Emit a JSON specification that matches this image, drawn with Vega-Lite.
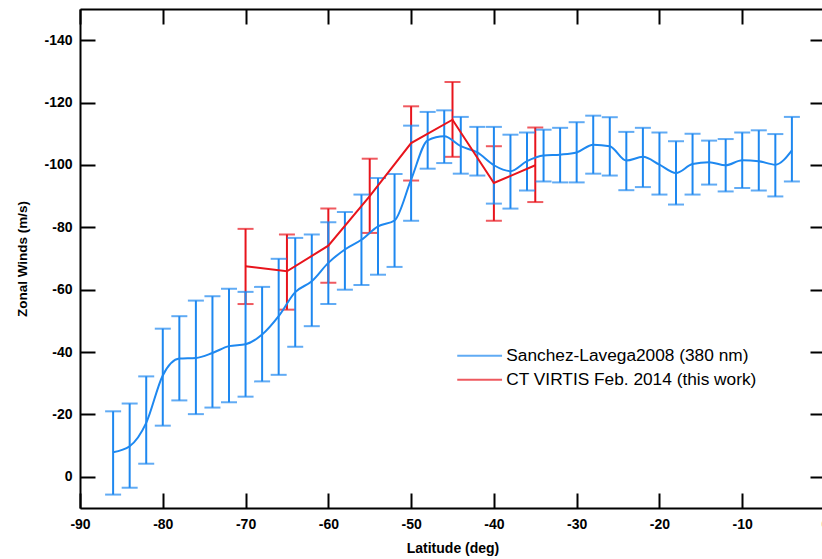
{
  "$schema": "https://vega.github.io/schema/vega-lite/v6.json",
  "width": 745,
  "height": 499,
  "autosize": {"type": "none"},
  "padding": {"left": 80, "top": 9, "right": 0, "bottom": 51},
  "background": "white",
  "config": {
    "view": {"stroke": null},
    "font": "Liberation Sans",
    "axis": {
      "domainColor": "black", "domainWidth": 2,
      "tickColor": "black", "tickWidth": 2, "tickSize": -15,
      "grid": false,
      "labelFont": "Liberation Sans", "labelFontWeight": "bold", "labelFontSize": 14, "labelColor": "black",
      "labelExpr": "'' + datum.value",
      "titleFont": "Liberation Sans", "titleFontWeight": "bold", "titleFontSize": 14, "titleColor": "black"
    }
  },
  "datasets": {
    "blue": [
      {"series": "Sanchez-Lavega2008 (380 nm)", "lat": -86, "v": -7.9, "lo": -21.0, "hi": 5.7},
      {"series": "Sanchez-Lavega2008 (380 nm)", "lat": -84, "v": -9.8, "lo": -23.5, "hi": 3.5},
      {"series": "Sanchez-Lavega2008 (380 nm)", "lat": -82, "v": -17.3, "lo": -32.2, "hi": -4.2},
      {"series": "Sanchez-Lavega2008 (380 nm)", "lat": -80, "v": -32.5, "lo": -47.5, "hi": -16.4},
      {"series": "Sanchez-Lavega2008 (380 nm)", "lat": -78, "v": -37.9, "lo": -51.5, "hi": -24.5},
      {"series": "Sanchez-Lavega2008 (380 nm)", "lat": -76, "v": -38.1, "lo": -56.5, "hi": -20.1},
      {"series": "Sanchez-Lavega2008 (380 nm)", "lat": -74, "v": -39.7, "lo": -57.9, "hi": -22.2},
      {"series": "Sanchez-Lavega2008 (380 nm)", "lat": -72, "v": -41.9, "lo": -60.3, "hi": -23.9},
      {"series": "Sanchez-Lavega2008 (380 nm)", "lat": -70, "v": -42.5, "lo": -59.3, "hi": -25.7},
      {"series": "Sanchez-Lavega2008 (380 nm)", "lat": -68, "v": -45.6, "lo": -60.9, "hi": -30.6},
      {"series": "Sanchez-Lavega2008 (380 nm)", "lat": -66, "v": -51.5, "lo": -69.9, "hi": -32.7},
      {"series": "Sanchez-Lavega2008 (380 nm)", "lat": -64, "v": -59.2, "lo": -76.6, "hi": -41.7},
      {"series": "Sanchez-Lavega2008 (380 nm)", "lat": -62, "v": -62.7, "lo": -77.7, "hi": -48.3},
      {"series": "Sanchez-Lavega2008 (380 nm)", "lat": -60, "v": -68.6, "lo": -81.6, "hi": -55.4},
      {"series": "Sanchez-Lavega2008 (380 nm)", "lat": -58, "v": -72.9, "lo": -84.9, "hi": -60.0},
      {"series": "Sanchez-Lavega2008 (380 nm)", "lat": -56, "v": -76.0, "lo": -90.5, "hi": -61.5},
      {"series": "Sanchez-Lavega2008 (380 nm)", "lat": -54, "v": -80.3, "lo": -95.8, "hi": -64.8},
      {"series": "Sanchez-Lavega2008 (380 nm)", "lat": -52, "v": -82.2, "lo": -97.1, "hi": -67.3},
      {"series": "Sanchez-Lavega2008 (380 nm)", "lat": -50, "v": -95.3, "lo": -112.6, "hi": -82.1},
      {"series": "Sanchez-Lavega2008 (380 nm)", "lat": -48, "v": -107.9, "lo": -117.0, "hi": -98.8},
      {"series": "Sanchez-Lavega2008 (380 nm)", "lat": -46, "v": -109.2, "lo": -117.5, "hi": -100.6},
      {"series": "Sanchez-Lavega2008 (380 nm)", "lat": -44, "v": -106.0, "lo": -115.4, "hi": -97.2},
      {"series": "Sanchez-Lavega2008 (380 nm)", "lat": -42, "v": -104.0, "lo": -112.2, "hi": -96.6},
      {"series": "Sanchez-Lavega2008 (380 nm)", "lat": -40, "v": -99.9, "lo": -112.2, "hi": -87.6},
      {"series": "Sanchez-Lavega2008 (380 nm)", "lat": -38, "v": -98.0, "lo": -109.7, "hi": -86.0},
      {"series": "Sanchez-Lavega2008 (380 nm)", "lat": -36, "v": -101.2, "lo": -110.4, "hi": -91.8},
      {"series": "Sanchez-Lavega2008 (380 nm)", "lat": -34, "v": -103.0, "lo": -111.3, "hi": -94.7},
      {"series": "Sanchez-Lavega2008 (380 nm)", "lat": -32, "v": -103.3, "lo": -111.9, "hi": -94.4},
      {"series": "Sanchez-Lavega2008 (380 nm)", "lat": -30, "v": -104.0, "lo": -113.7, "hi": -94.4},
      {"series": "Sanchez-Lavega2008 (380 nm)", "lat": -28, "v": -106.5, "lo": -115.8, "hi": -97.2},
      {"series": "Sanchez-Lavega2008 (380 nm)", "lat": -26, "v": -106.0, "lo": -115.3, "hi": -96.6},
      {"series": "Sanchez-Lavega2008 (380 nm)", "lat": -24, "v": -101.4, "lo": -110.6, "hi": -91.9},
      {"series": "Sanchez-Lavega2008 (380 nm)", "lat": -22, "v": -102.6, "lo": -111.9, "hi": -92.9},
      {"series": "Sanchez-Lavega2008 (380 nm)", "lat": -20, "v": -100.1, "lo": -110.4, "hi": -90.5},
      {"series": "Sanchez-Lavega2008 (380 nm)", "lat": -18, "v": -97.4, "lo": -107.6, "hi": -87.3},
      {"series": "Sanchez-Lavega2008 (380 nm)", "lat": -16, "v": -100.3, "lo": -110.0, "hi": -90.5},
      {"series": "Sanchez-Lavega2008 (380 nm)", "lat": -14, "v": -100.9, "lo": -107.8, "hi": -93.7},
      {"series": "Sanchez-Lavega2008 (380 nm)", "lat": -12, "v": -99.9, "lo": -108.3, "hi": -91.5},
      {"series": "Sanchez-Lavega2008 (380 nm)", "lat": -10, "v": -101.5, "lo": -110.4, "hi": -92.6},
      {"series": "Sanchez-Lavega2008 (380 nm)", "lat": -8, "v": -101.2, "lo": -111.1, "hi": -91.8},
      {"series": "Sanchez-Lavega2008 (380 nm)", "lat": -6, "v": -100.1, "lo": -109.9, "hi": -89.9},
      {"series": "Sanchez-Lavega2008 (380 nm)", "lat": -4, "v": -104.7, "lo": -115.4, "hi": -94.7}
    ],
    "red": [
      {"series": "CT VIRTIS Feb. 2014 (this work)", "lat": -70, "v": -67.5, "lo": -79.5, "hi": -55.4},
      {"series": "CT VIRTIS Feb. 2014 (this work)", "lat": -65, "v": -65.9, "lo": -77.7, "hi": -53.6},
      {"series": "CT VIRTIS Feb. 2014 (this work)", "lat": -60, "v": -74.1, "lo": -86.0, "hi": -62.2},
      {"series": "CT VIRTIS Feb. 2014 (this work)", "lat": -55, "v": -90.0, "lo": -102.0, "hi": -78.2},
      {"series": "CT VIRTIS Feb. 2014 (this work)", "lat": -50, "v": -107.0, "lo": -118.8, "hi": -95.0},
      {"series": "CT VIRTIS Feb. 2014 (this work)", "lat": -45, "v": -114.5, "lo": -126.6, "hi": -102.6},
      {"series": "CT VIRTIS Feb. 2014 (this work)", "lat": -40, "v": -94.2, "lo": -106.0, "hi": -82.1},
      {"series": "CT VIRTIS Feb. 2014 (this work)", "lat": -35, "v": -99.9, "lo": -112.0, "hi": -88.1}
    ]
  },
  "resolve": {"axis": {"x": "independent", "y": "independent"}},
  "layer": [
    {
      "data": {"name": "red"},
      "mark": {"type": "rule", "strokeWidth": 2},
      "encoding": {
        "x": {"field": "lat", "type": "quantitative", "scale": {"domain": [-90, 0], "nice": false},
              "axis": {"orient": "bottom", "values": [-90, -80, -70, -60, -50, -40, -30, -20, -10, 0], "title": "Latitude (deg)", "labelPadding": 24, "titlePadding": 10, "labelFlush": false}},
        "y": {"field": "lo", "type": "quantitative", "scale": {"domain": [-150, 10], "nice": false, "zero": false, "reverse": true},
              "axis": {"orient": "left", "values": [0, -20, -40, -60, -80, -100, -120, -140], "title": "Zonal Winds (m/s)", "titleFontSize": 13.5, "labelPadding": 23, "titlePadding": 14}},
        "y2": {"field": "hi"},
        "color": {"field": "series", "type": "nominal",
                  "scale": {"domain": ["Sanchez-Lavega2008 (380 nm)", "CT VIRTIS Feb. 2014 (this work)"], "range": ["#1E88F0", "#E8141C"]},
                  "legend": {"orient": "none", "legendX": 391, "legendY": 338, "title": null, "symbolType": "M-3.2,0H3.2", "symbolSize": 196, "symbolStrokeWidth": 2, "symbolFillColor": "transparent", "labelFontSize": 17.3, "labelFont": "Liberation Sans", "labelColor": "black", "labelOffset": 18, "labelLimit": 0, "rowPadding": 6, "padding": 0}}
      }
    },
    {
      "data": {"name": "red"},
      "mark": {"type": "tick", "orient": "horizontal", "size": 16, "thickness": 2},
      "encoding": {
        "x": {"field": "lat", "type": "quantitative",
              "axis": {"orient": "top", "values": [-90, -80, -70, -60, -50, -40, -30, -20, -10, 0], "labels": false, "title": null}},
        "y": {"field": "lo", "type": "quantitative",
              "axis": {"orient": "right", "values": [0, -20, -40, -60, -80, -100, -120, -140], "labels": false, "title": null}},
        "color": {"field": "series", "type": "nominal"}
      }
    },
    {
      "data": {"name": "red"},
      "mark": {"type": "tick", "orient": "horizontal", "size": 16, "thickness": 2},
      "encoding": {
        "x": {"field": "lat", "type": "quantitative", "axis": null},
        "y": {"field": "hi", "type": "quantitative", "axis": null},
        "color": {"field": "series", "type": "nominal"}
      }
    },
    {
      "data": {"name": "blue"},
      "mark": {"type": "rule", "strokeWidth": 2},
      "encoding": {
        "x": {"field": "lat", "type": "quantitative", "axis": null},
        "y": {"field": "lo", "type": "quantitative", "axis": null},
        "y2": {"field": "hi"},
        "color": {"field": "series", "type": "nominal"}
      }
    },
    {
      "data": {"name": "blue"},
      "mark": {"type": "tick", "orient": "horizontal", "size": 16, "thickness": 2},
      "encoding": {
        "x": {"field": "lat", "type": "quantitative", "axis": null},
        "y": {"field": "lo", "type": "quantitative", "axis": null},
        "color": {"field": "series", "type": "nominal"}
      }
    },
    {
      "data": {"name": "blue"},
      "mark": {"type": "tick", "orient": "horizontal", "size": 16, "thickness": 2},
      "encoding": {
        "x": {"field": "lat", "type": "quantitative", "axis": null},
        "y": {"field": "hi", "type": "quantitative", "axis": null},
        "color": {"field": "series", "type": "nominal"}
      }
    },
    {
      "data": {"name": "blue"},
      "mark": {"type": "line", "strokeWidth": 2, "interpolate": "monotone"},
      "encoding": {
        "x": {"field": "lat", "type": "quantitative", "axis": null},
        "y": {"field": "v", "type": "quantitative", "axis": null},
        "color": {"field": "series", "type": "nominal"}
      }
    },
    {
      "data": {"name": "red"},
      "mark": {"type": "line", "strokeWidth": 2},
      "encoding": {
        "x": {"field": "lat", "type": "quantitative", "axis": null},
        "y": {"field": "v", "type": "quantitative", "axis": null},
        "color": {"field": "series", "type": "nominal"}
      }
    }
  ]
}
